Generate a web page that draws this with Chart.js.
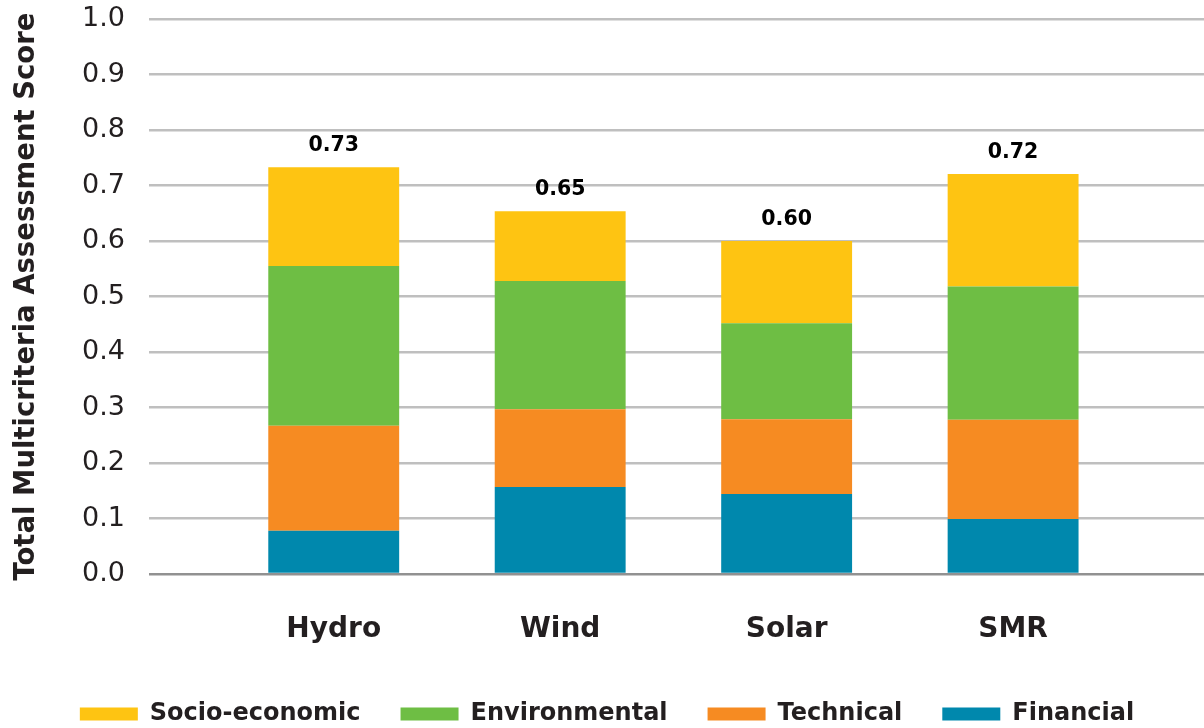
<!DOCTYPE html>
<html>
<head>
<meta charset="utf-8">
<script src="https://cdn.jsdelivr.net/npm/chart.js@4"></script>
<style>
html,body{margin:0;padding:0;background:#fff}
#wrap{width:1204px;height:728px}
</style>
</head>
<body>
<div id="wrap"><canvas id="mcaChart"></canvas></div>
<script>
// values
const categories=["Hydro","Wind","Solar","SMR"]
const financial=[0.078,0.157,0.144,0.099]
const technical=[0.189,0.140,0.135,0.179]
const environmental=[0.288,0.231,0.173,0.240]
const socioEconomic=[0.178,0.126,0.148,0.203]
const yTicks=[0,0.1,0.2,0.3,0.4,0.5,0.6,0.7,0.8,0.9,1.0]

const FONT="'DejaVu Sans', sans-serif"
const DARK="#231f20"

function points(arr){
return arr.map((v,i)=>({x:i,y:v}))
}

// total label above each bar
const totalLabels={
id:"totalLabels",
afterDatasetsDraw(chart){
const ctx=chart.ctx
const xs=chart.scales.x
const ys=chart.scales.y
ctx.save()
ctx.font="bold 20.5px "+FONT
ctx.fillStyle="#000"
ctx.textAlign="center"
ctx.textBaseline="alphabetic"
categories.forEach((c,i)=>{
let total=financial[i]+technical[i]+environmental[i]+socioEconomic[i]
ctx.fillText(total.toFixed(2),xs.getPixelForValue(i),ys.getPixelForValue(total)-16)
})
ctx.restore()
}
}

const mcaChart=new Chart(
document.getElementById("mcaChart"),
{
type:"bar",
data:{
datasets:[
{label:"Financial",data:points(financial),backgroundColor:"#0088ad"},
{label:"Technical",data:points(technical),backgroundColor:"#f68b22"},
{label:"Environmental",data:points(environmental),backgroundColor:"#6ebe44"},
{label:"Socio-economic",data:points(socioEconomic),backgroundColor:"#fec412"}
]
},
options:{
responsive:true,
maintainAspectRatio:false,
animation:false,
barPercentage:0.578,
categoryPercentage:1,
layout:{padding:{top:0,right:0,bottom:-8,left:10}},
plugins:{
tooltip:{enabled:false},
legend:{
position:"bottom",
reverse:true,
labels:{
boxWidth:58,
boxHeight:13,
padding:40,
color:DARK,
font:{family:FONT,size:24,weight:"bold"}
}
}
},
scales:{
x:{
type:"linear",
stacked:true,
offset:false,
min:-0.816,
max:3.843,
grid:{display:false,drawTicks:true,tickLength:24},
border:{display:false},
afterBuildTicks:axis=>{axis.ticks=categories.map((c,i)=>({value:i}))},
ticks:{
padding:15,
color:DARK,
font:{family:FONT,size:28,weight:"bold",lineHeight:"34px"},
callback:v=>categories[v]
}
},
y:{
stacked:true,
min:0,
max:1,
afterBuildTicks:axis=>{axis.ticks=yTicks.map(v=>({value:v}))},
border:{display:false},
grid:{
drawTicks:true,
tickLength:21,
tickColor:"rgba(0,0,0,0)",
lineWidth:2.5,
color:c=>c.tick&&c.tick.value===0?"#919191":"#bfbfbf"
},
ticks:{
padding:3,
color:DARK,
font:{family:FONT,size:27},
callback:v=>v.toFixed(1)
},
title:{
display:true,
text:"Total Multicriteria Assessment Score",
color:DARK,
padding:{top:0,bottom:36},
font:{family:FONT,size:27.5,weight:"bold"}
}
}
}
},
plugins:[totalLabels]
})
</script>
</body>
</html>
